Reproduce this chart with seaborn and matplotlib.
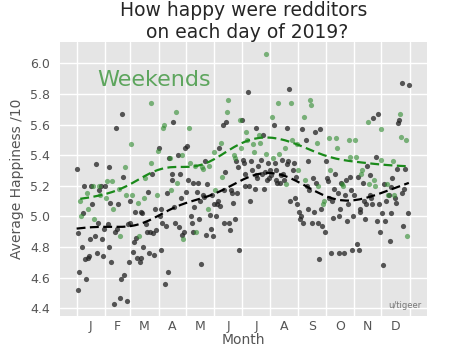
import numpy as np
import pandas as pd
import matplotlib
matplotlib.use("Agg")
import matplotlib.pyplot as plt
import seaborn as sns

# daily average happiness, one list per month
jan = [5.31, 4.52, 4.89, 4.64, 5.10, 5.00, 4.80, 5.02, 5.20, 4.72, 4.59, 5.15, 5.05, 4.73, 4.74, 4.85,
       5.20, 5.08, 5.20, 4.98, 4.87, 5.34, 4.76, 4.96, 5.17, 5.20, 5.14, 5.20, 4.85, 4.74, 4.92]
feb = [5.20, 5.12, 5.23, 4.95, 5.32, 4.80, 5.09, 4.70, 5.23, 5.05, 4.43, 4.90, 5.58, 4.92, 5.08, 5.18,
       4.87, 4.47, 4.59, 5.67, 5.26, 4.62, 5.32, 5.14, 4.45, 4.95, 4.70, 5.10]
mar = [4.96, 5.47, 5.14, 4.77, 4.83, 5.03, 4.86, 4.73, 5.09, 4.87, 4.70, 5.03, 4.73, 5.02, 4.80, 5.12,
       5.25, 4.95, 4.90, 5.16, 4.76, 4.90, 5.74, 5.35, 5.28, 4.89, 4.75, 5.05, 4.91, 5.14, 5.43]
apr = [5.45, 5.00, 4.78, 5.05, 4.96, 5.58, 5.60, 4.56, 4.94, 5.15, 4.64, 5.38, 5.38, 5.17, 5.28, 5.24,
       5.62, 5.06, 4.96, 5.68, 5.22, 5.40, 4.93, 5.28, 5.12, 4.88, 5.40, 4.85, 4.90, 5.45]
may = [5.16, 5.46, 5.24, 5.58, 5.35, 5.00, 4.96, 5.22, 4.90, 5.06, 5.33, 4.90, 5.16, 5.22, 4.98, 5.10,
       4.69, 5.32, 5.31, 5.14, 5.13, 5.36, 4.88, 5.21, 5.05, 5.33, 5.01, 4.92, 5.14, 4.87, 5.08]
jun = [5.42, 5.17, 5.00, 5.08, 5.10, 5.45, 5.07, 5.48, 5.26, 5.60, 4.96, 5.17, 5.29, 5.62, 5.68, 5.76,
       4.96, 4.91, 5.17, 5.15, 5.09, 5.40, 5.38, 4.98, 5.36, 5.15, 5.32, 4.78, 5.63, 5.45]
jul = [5.63, 5.37, 5.35, 5.28, 5.20, 5.55, 5.50, 5.81, 5.20, 5.10, 5.36, 5.30, 5.47, 5.42, 5.18, 5.58,
       5.27, 5.25, 5.33, 5.53, 5.48, 5.37, 5.28, 5.53, 5.18, 5.29, 6.06, 5.41, 5.24, 5.35, 5.25]
aug = [5.30, 5.27, 5.65, 5.38, 5.60, 5.35, 5.30, 5.24, 5.22, 5.74, 5.41, 5.22, 5.27, 5.37, 5.28, 5.24,
       5.45, 5.21, 5.34, 5.58, 5.36, 5.83, 5.10, 5.74, 5.50, 5.30, 5.35, 5.12, 5.26, 5.08, 5.47]
sep = [5.30, 5.03, 4.98, 5.00, 5.57, 4.96, 5.65, 5.24, 5.50, 5.20, 5.05, 5.36, 5.17, 5.76, 5.73, 4.96,
       5.25, 5.03, 5.55, 5.22, 5.48, 5.20, 4.96, 4.72, 5.57, 5.05, 4.94, 5.08, 5.10, 4.90]
oct = [5.36, 5.25, 5.23, 5.12, 5.51, 5.30, 4.76, 5.10, 4.99, 5.18, 5.28, 5.51, 5.45, 5.15, 5.00, 4.76,
       5.05, 5.22, 5.21, 5.20, 4.76, 5.14, 5.24, 4.97, 5.08, 5.50, 5.39, 5.26, 5.17, 4.78, 5.00]
nov = [5.14, 5.50, 5.39, 4.82, 5.26, 4.78, 5.05, 5.03, 5.28, 5.30, 5.22, 5.10, 4.98, 5.08, 5.33, 5.62,
       5.21, 5.27, 5.14, 5.12, 5.08, 5.64, 5.24, 5.20, 5.39, 4.97, 5.67, 5.08, 4.90, 5.57]
dec = [5.37, 5.02, 4.68, 5.21, 4.97, 5.10, 5.21, 5.14, 5.14, 4.84, 5.19, 5.02, 5.25, 5.36, 5.14, 5.12,
       5.09, 5.31, 5.61, 5.63, 5.67, 5.52, 5.15, 5.87, 4.94, 5.18, 5.31, 5.50, 4.87, 5.02, 5.86]

month_letters = ["J", "F", "M", "A", "M", "J", "J", "A", "S", "O", "N", "D"]

happiness = np.concatenate([jan, feb, mar, apr, may, jun, jul, aug, sep, oct, nov, dec])
dates = pd.date_range("2019-01-01", periods=len(happiness), freq="D")
df = pd.DataFrame({"day": np.arange(len(happiness)), "happiness": happiness,
                   "weekend": dates.dayofweek >= 5})


def smooth(sub, bw=26):
    # gaussian kernel smoother
    x = sub["day"].to_numpy()
    y = sub["happiness"].to_numpy()
    w = np.exp(-0.5 * ((x[:, None] - x[None, :]) / bw) ** 2)
    return pd.DataFrame({"day": x, "happiness": (w * y[None, :]).sum(1) / w.sum(1)})


sns.set_style("darkgrid", {"axes.facecolor": "#E5E5E5", "grid.color": "white"})
plt.rcParams["font.family"] = ["DejaVu Sans"]

fig = plt.figure(figsize=(4.74, 3.55), dpi=100)
ax = fig.add_axes([0.127, 0.11, 0.774, 0.772])

wd = df[~df["weekend"]]
we = df[df["weekend"]]
sns.scatterplot(data=wd, x="day", y="happiness", color="#222222", alpha=0.75, s=14,
                linewidth=0, ax=ax)
sns.scatterplot(data=we, x="day", y="happiness", color="#2e8b2e", alpha=0.6, s=14,
                linewidth=0, ax=ax)
sns.lineplot(data=smooth(wd), x="day", y="happiness", color="black", lw=1.6,
             linestyle=(0, (4, 2)), ax=ax)
sns.lineplot(data=smooth(we), x="day", y="happiness", color="#1a8a1a", lw=1.6,
             linestyle=(0, (4, 2)), ax=ax)

starts = np.r_[0, np.cumsum([len(m) for m in [jan, feb, mar, apr, may, jun, jul, aug,
                                               sep, oct, nov, dec]])]
ax.set_xticks(starts)
ax.set_xticklabels([])
ax.set_xticks((starts[:-1] + starts[1:]) / 2, minor=True)
ax.set_xticklabels(month_letters, minor=True)
ax.tick_params(axis="x", which="minor", length=0, labelsize=9, colors="#555555", pad=3)
ax.tick_params(axis="x", which="major", length=4, color="#555555", direction="out")
ax.tick_params(axis="y", labelsize=9, colors="#555555", length=4, direction="out")
ax.grid(True, which="major", color="white", lw=1)
ax.set_yticks(np.arange(4.4, 6.01, 0.2))
ax.set_ylim(4.35, 6.14)
ax.set_xlim(-18, 384)

ax.set_xlabel("Month", fontsize=10, color="#555555", labelpad=0)
ax.set_ylabel("Average Happiness /10", fontsize=10, color="#555555")
ax.set_title("How happy were redditors\n on each day of 2019?", fontsize=13.5, pad=3)
ax.text(0.1, 0.84, "Weekends", transform=ax.transAxes, fontsize=16, color="#4e9e4e",
        alpha=0.9)
ax.text(0.985, 0.03, "u/tigeer", transform=ax.transAxes, fontsize=6, color="#777777",
        ha="right")
for s in ax.spines.values():
    s.set_visible(False)

fig.savefig("out.png", dpi=100)
